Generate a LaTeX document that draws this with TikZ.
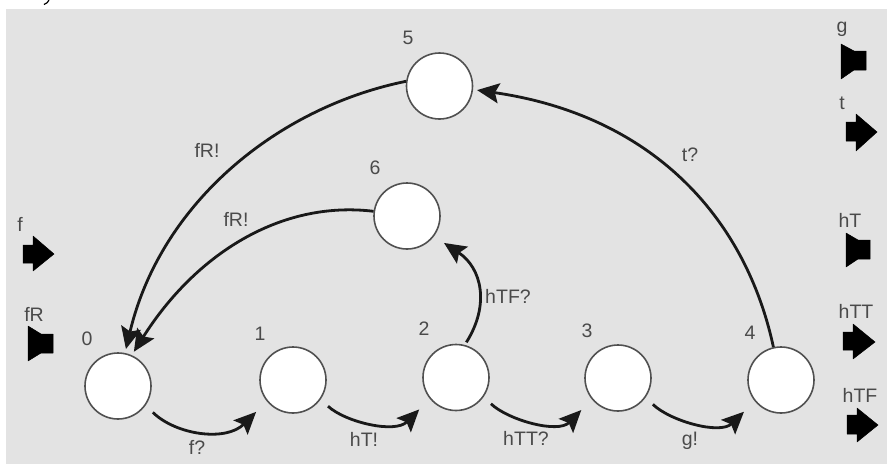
\documentclass[tikz,border=0pt]{standalone}
\usepackage{fontspec}
\setmainfont{Liberation Sans}
\usetikzlibrary{arrows.meta}
\definecolor{bgc}{HTML}{E3E3E3}
\definecolor{txtc}{HTML}{4A4A4A}
\definecolor{ringc}{HTML}{505050}
\tikzset{
  state/.style={circle,draw=ringc,line width=1.6pt,fill=white,minimum size=66pt,inner sep=0pt},
  lab/.style={text=txtc,font=\fontsize{19.5}{19.5}\selectfont,inner sep=0pt},
  edge/.style={draw=black!90,line width=2.8pt,-{Stealth[length=22pt,width=20pt,inset=4pt]},shorten >=4pt},
  short/.style={edge,shorten >=15pt,shorten <=10pt},
  icon/.style={fill=black,draw=black,line width=.5pt,line join=round}
}
\begin{document}
\begin{tikzpicture}[x=1pt,y=-1pt]
\useasboundingbox (0,0) rectangle (887,464);
\fill[bgc] (6,9) rectangle (887,464);
% cropped remnant at the top edge
\draw[black,line width=1.2pt] (49,0) .. controls (48,2) and (47,3.5) .. (44,4.5);
% states
\node[state] (n0) at (118,386) {};
\node[state] (n1) at (293,380) {};
\node[state] (n2) at (456,377.5) {};
\node[state] (n3) at (618,378) {};
\node[state] (n4) at (781,380) {};
\node[state] (n5) at (439.5,86) {};
\node[state] (n6) at (407,216) {};
% state labels
\node[lab] (l0) at (87,339) {0};
\node[lab] (l1) at (260,334) {1};
\node[lab] (l2) at (424,329) {2};
\node[lab] (l3) at (587,331) {3};
\node[lab] (l4) at (750,333) {4};
\node[lab] (l5) at (408,38) {5};
\node[lab] (l6) at (375,168) {6};
% edges
\path[edge] (n5.172) .. controls (275,108) and (160,205) .. (n0.78);
\path[edge] (n6.172) .. controls (280,200) and (195,255) .. (n0.66);
\path[edge] (n4.103) .. controls (745,215) and (650,115) .. (n5.-6);
\path[edge,shorten >=12pt,shorten <=3pt] (n2.75) .. controls (490,305) and (482,268) .. (n6.-37);
\path[short] (n0.-35) .. controls (176,435) and (226,442) .. (n1.-141.5);
\path[short] (n1.-35) .. controls (345,422) and (395,434) .. (n2.-141.5);
\path[short] (n2.-35) .. controls (508,420) and (558,434) .. (n3.-141.5);
\path[short] (n3.-35) .. controls (670,421) and (720,435) .. (n4.-141.5);
% edge labels
\node[lab] (e1) at (207,150) {fR!};
\node[lab] (e2) at (236,219) {fR!};
\node[lab] (e3) at (690,155) {t?};
\node[lab] (e4) at (508,296) {hTF?};
\node[lab] (e5) at (197,447) {f?};
\node[lab] (e6) at (364,439) {hT!};
\node[lab] (e7) at (526,438) {hTT?};
\node[lab] (e8) at (690,441) {g!};
% channel labels
\node[lab] (tf) at (20,224) {f};
\node[lab] (tfr) at (34,314) {fR};
\node[lab] (tg) at (842,29) {g};
\node[lab] (tt) at (842,103) {t};
\node[lab] (tht) at (850,220) {hT};
\node[lab] (thtt) at (856,311) {hTT};
\node[lab] (thtf) at (860,395) {hTF};
% input arrows
\fill[icon] (23,245) -- (33,245) -- (33,236) -- (54,254) -- (33,271) -- (33,263) -- (23,263) -- cycle;
\fill[icon] (846,122) -- (856,122) -- (856,114) -- (877,132) -- (856,151) -- (856,141) -- (846,141) -- cycle;
\fill[icon] (843,332) -- (853,332) -- (853,324) -- (875,342) -- (853,359) -- (853,350) -- (843,350) -- cycle;
\fill[icon] (847,415) -- (857,415) -- (857,408) -- (878,425) -- (857,442) -- (857,434) -- (847,434) -- cycle;
% speakers
\fill[icon] (28,326) -- (41,334) -- (53,334) -- (53,353) -- (41,353) -- (28,361) -- cycle;
\fill[icon] (841,44) -- (854,51) -- (866,51) -- (866,70) -- (854,70) -- (841,79) -- cycle;
\fill[icon] (846,233) -- (858,240) -- (870,240) -- (870,259) -- (858,259) -- (846,267) -- cycle;
\end{tikzpicture}
\end{document}
